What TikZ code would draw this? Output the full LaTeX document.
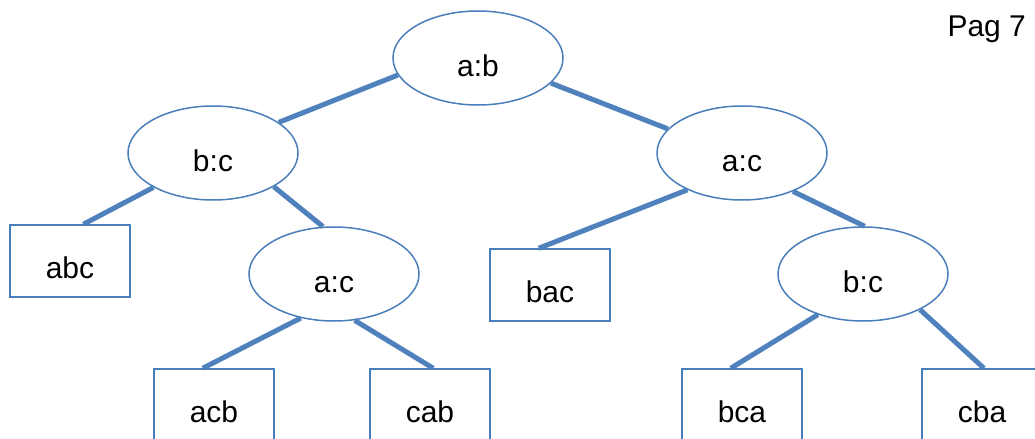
\documentclass[tikz,border=0pt]{standalone}
\usepackage{fontspec}
\setmainfont{Liberation Sans}
\usepackage{tikz}
\usetikzlibrary{shapes.geometric}
\definecolor{rim}{HTML}{4A7EBB}
\definecolor{link}{HTML}{4F81BD}

\begin{document}
\begin{tikzpicture}[x=.5pt,y=-.5pt, every node/.style={font=\fontsize{15}{18}\selectfont},
  cmp/.style={draw=rim, fill=white, line width=.75pt, ellipse, minimum width=85pt,
              minimum height=47pt, inner sep=0pt, text height=1.85em, text depth=0pt},
  leaf/.style={draw=rim, fill=white, line width=.75pt, minimum width=60pt,
               minimum height=36pt, inner sep=0pt, text height=1.75em, text depth=0pt},
  branch/.style={draw=link, line width=2.5pt},
]
  \useasboundingbox (0,0) rectangle (1035,439);
  \clip (0,0) rectangle (1035,439);

  % Comparisons
  \node[cmp] (ab) at (478,58) {a:b};
  \node[cmp] (bcl) at (213,153) {b:c};
  \node[cmp] (acr) at (742,153) {a:c};
  \node[cmp] (acl) at (334,274) {a:c};
  \node[cmp] (bcr) at (863,274) {b:c};

  % Outcomes
  \node[leaf] (abc) at (70,261) {abc};
  \node[leaf] (bac) at (550,285) {bac};
  \node[leaf] (acb) at (214,405) {acb};
  \node[leaf] (cab) at (430,405) {cab};
  \node[leaf] (bca) at (742,405) {bca};
  \node[leaf] (cba) at (982,405) {cba};

  % Branches
  \draw[branch] (ab.192) -- (bcl.25);
  \draw[branch] (ab.341) -- (acr.162);
  \draw[branch] (bcl.210) -- (abc.70);
  \draw[branch] (bcl.331) -- (acl.103);
  \draw[branch] (acl.233) -- (acb.107);
  \draw[branch] (acl.294) -- (cab.85);
  \draw[branch] (acr.214) -- (bac.107);
  \draw[branch] (acr.323) -- (bcr.88);
  \draw[branch] (bcr.222) -- (bca.107);
  \draw[branch] (bcr.328) -- (cba.87);

  \node[anchor=base east] (page) at (1033,37) {Pag 7};
\end{tikzpicture}
\end{document}
